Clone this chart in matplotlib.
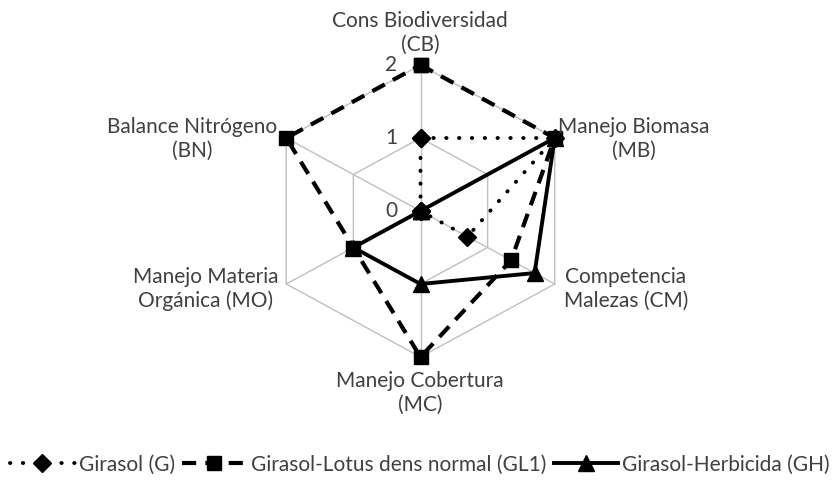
import numpy as np
import matplotlib
matplotlib.use('Agg')
import matplotlib.pyplot as plt

plt.rcParams['font.family'] = ['Lato', 'DejaVu Sans']

# ── datos ──
categorias = ['Cons Biodiversidad\n(CB)', 'Manejo Biomasa\n(MB)', 'Competencia\nMalezas (CM)',
              'Manejo Cobertura\n(MC)', 'Manejo Materia\nOrgánica (MO)', 'Balance Nitrógeno\n(BN)']
girasol = [1, 2, 0.7, 0, 0, 0]
girasol_lotus = [2, 2, 1.35, 2, 1, 2]
girasol_herb = [0, 2, 1.7, 1, 1, 0]
ticks = [0, 1, 2]
series_labels = ['Girasol (G)', 'Girasol-Lotus dens normal (GL1)', 'Girasol-Herbicida (GH)']

W, H = 840, 481
fig = plt.figure(figsize=(W / 100, H / 100), dpi=100)
ax = fig.add_axes([0, 0, 1, 1])

# centro y escala en pixeles (el original esta estirado en x)
cx, cy = 420.5, 212.0
ux, uy = 77.5, 73.0
ax.set_xlim(-cx / ux, (W - cx) / ux)
ax.set_ylim(-(H - cy) / uy, cy / uy)
ax.axis('off')

n = len(categorias)
ang = np.deg2rad(90 - 360 / n * np.arange(n))


def xy(vals):
    v = np.asarray(vals, dtype=float)
    x = v * np.cos(ang)
    y = v * np.sin(ang)
    return np.append(x, x[0]), np.append(y, y[0])


# ── rejilla ──
grid_c = '#BFBFBF'
for t in ticks[1:]:
    gx, gy = xy([t] * n)
    ax.plot(gx, gy, color=grid_c, lw=1.0, zorder=1)
for a in ang:
    ax.plot([0, max(ticks) * np.cos(a)], [0, max(ticks) * np.sin(a)],
            color=grid_c, lw=1.0, zorder=1)

# ── series ──
gx, gy = xy(girasol)
l1, = ax.plot(gx, gy, color='black', lw=2.8, linestyle=(0, (0.1, 3.2)),
              dash_capstyle='round', marker='D', ms=9, zorder=3,
              label=series_labels[0])
gx, gy = xy(girasol_lotus)
l2, = ax.plot(gx, gy, color='black', lw=3.0, linestyle=(0, (3.4, 2.2)),
              marker='s', ms=10.5, zorder=3, label=series_labels[1])
gx, gy = xy(girasol_herb)
l3, = ax.plot(gx, gy, color='black', lw=2.8, linestyle='-',
              marker='^', ms=11, zorder=3, label=series_labels[2])

txt_c = '#404040'
fs = 15

# etiquetas de ejes (posiciones en pixeles)
lab_pos = [(420, 33), (634, 139), (626, 289), (420, 393), (206, 289), (192, 139)]
for lab, (px, py) in zip(categorias, lab_pos):
    fig.text(px / W, 1 - py / H, lab, ha='center', va='center',
             multialignment='center', fontsize=fs, color=txt_c, linespacing=1.2)

# etiquetas de escala
for t in ticks:
    ax.text(-0.38, t + 0.02, str(t), ha='center', va='center', fontsize=fs, color=txt_c)

leg = fig.legend(handles=[l1, l2, l3], loc='center', bbox_to_anchor=(0.5, 1 - 465 / H),
                 ncol=3, frameon=False, fontsize=fs, handlelength=3.1,
                 handletextpad=0.2, columnspacing=0.35, labelcolor=txt_c)

fig.savefig('out.png', dpi=100)
